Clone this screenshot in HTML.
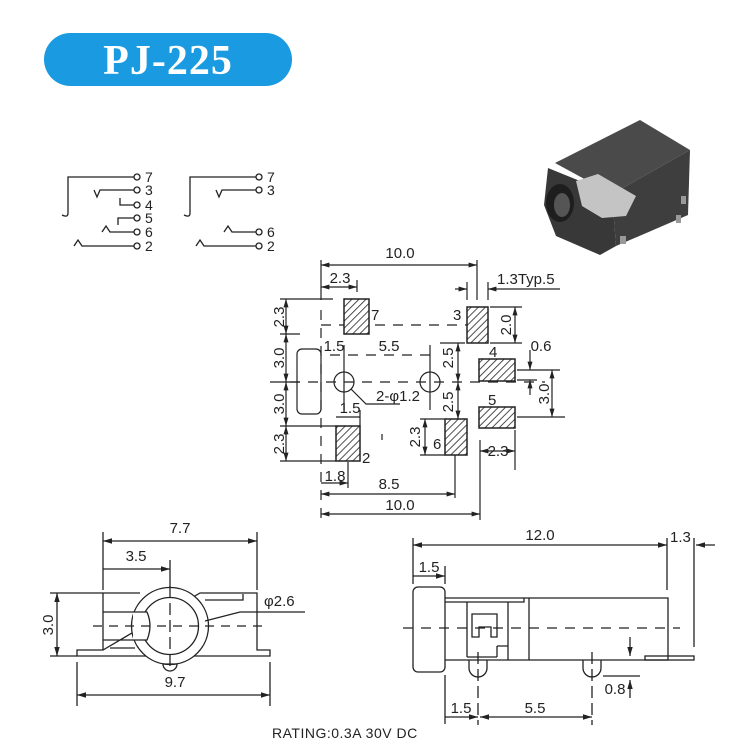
<!DOCTYPE html>
<html><head><meta charset="utf-8"><style>
html,body{margin:0;padding:0;background:#fff;}
svg{display:block}
text{font-family:"Liberation Sans",Arial,sans-serif;font-size:15px;fill:#222;}
</style></head><body>
<svg width="735" height="744" viewBox="0 0 735 744" xmlns="http://www.w3.org/2000/svg">
<defs>
<pattern id="h" width="5" height="5" patternUnits="userSpaceOnUse" patternTransform="rotate(45)">
<rect width="5" height="5" fill="#fff"/><line x1="0" y1="0" x2="0" y2="5" stroke="#222" stroke-width="1.6"/>
</pattern>
<marker id="a" viewBox="0 0 10 10" refX="10" refY="5" markerWidth="7" markerHeight="7" orient="auto-start-reverse"><path d="M0,2 L10,5 L0,8 z" fill="#222"/></marker>
</defs>
<!-- title -->
<rect x="44" y="33" width="248" height="53" rx="26.5" fill="#1a9ae0"/>
<text x="168" y="74" text-anchor="middle" style="font-family:'Liberation Serif',serif;font-weight:bold;font-size:42px;fill:#fff;letter-spacing:1px">PJ-225</text>

<!-- photo -->
<g>
<polygon points="555,163 640,120 690,150 612,194" fill="#4a4a4a"/>
<polygon points="612,194 690,150 688,215 616,246" fill="#3e3e3e"/>
<polygon points="548,168 612,194 616,246 600,255 556,236 544,205" fill="#383838"/>
<polygon points="576,181 598,174 636,196 626,216 602,218 582,206" fill="#c4c4c4"/>
<ellipse cx="560" cy="203" rx="14" ry="19" fill="#1e1e1e"/>
<ellipse cx="562" cy="205" rx="8" ry="12" fill="#555"/>
<rect x="620" y="236" width="6" height="8" fill="#999"/>
<rect x="681" y="196" width="5" height="8" fill="#999"/>
<rect x="676" y="215" width="5" height="8" fill="#999"/>
</g>

<g fill="none" stroke="#222" stroke-width="1.3">
<!-- schematic left -->
<path d="M134,177 H68 V213 Q68,218 62,215"/>
<path d="M134,190 H100 L97,197 L94,190"/>
<path d="M134,205 H120 V198"/>
<path d="M134,218 H118 V225"/>
<path d="M134,232 H110 L106,226 L102,232"/>
<path d="M134,246 H82 L78,240 L74,246"/>
<circle cx="137" cy="177" r="3"/><circle cx="137" cy="190" r="3"/><circle cx="137" cy="205" r="3"/><circle cx="137" cy="218" r="3"/><circle cx="137" cy="232" r="3"/><circle cx="137" cy="246" r="3"/>
<!-- schematic right -->
<path d="M256,177 H190 V213 Q190,218 184,215"/>
<path d="M256,190 H222 L219,197 L216,190"/>
<path d="M256,232 H232 L228,226 L224,232"/>
<path d="M256,246 H204 L200,240 L196,246"/>
<circle cx="259" cy="177" r="3"/><circle cx="259" cy="190" r="3"/><circle cx="259" cy="232" r="3"/><circle cx="259" cy="246" r="3"/>
</g>
<g style="font-size:14px">
<text x="145" y="182" style="font-size:14px">7</text><text x="145" y="195" style="font-size:14px">3</text><text x="145" y="210" style="font-size:14px">4</text><text x="145" y="223" style="font-size:14px">5</text><text x="145" y="237" style="font-size:14px">6</text><text x="145" y="251" style="font-size:14px">2</text>
<text x="267" y="182" style="font-size:14px">7</text><text x="267" y="195" style="font-size:14px">3</text><text x="267" y="237" style="font-size:14px">6</text><text x="267" y="251" style="font-size:14px">2</text>
</g>

<!-- PCB footprint -->
<g fill="none" stroke="#222" stroke-width="1.2">
<line x1="321" y1="260" x2="321" y2="300"/>
<line x1="321" y1="310" x2="321" y2="520" stroke-dasharray="10,8"/>
<line x1="477" y1="260" x2="477" y2="300"/>
<line x1="480" y1="440" x2="480" y2="520"/>
<line x1="321" y1="265" x2="477" y2="265" marker-start="url(#a)" marker-end="url(#a)"/>
<line x1="321" y1="287" x2="357" y2="287" marker-start="url(#a)" marker-end="url(#a)"/>
<line x1="357" y1="280" x2="357" y2="292"/>
<line x1="280" y1="299" x2="333" y2="299"/>
<line x1="280" y1="334" x2="300" y2="334"/>
<line x1="270" y1="382" x2="300" y2="382"/>
<line x1="280" y1="426" x2="336" y2="426"/>
<line x1="280" y1="461" x2="336" y2="461"/>
<line x1="286" y1="299" x2="286" y2="334" marker-start="url(#a)" marker-end="url(#a)"/>
<line x1="286" y1="334" x2="286" y2="382" marker-start="url(#a)" marker-end="url(#a)"/>
<line x1="286" y1="382" x2="286" y2="426" marker-start="url(#a)" marker-end="url(#a)"/>
<line x1="286" y1="426" x2="286" y2="461" marker-start="url(#a)" marker-end="url(#a)"/>
<rect x="297" y="349" width="24" height="65" rx="5"/>
<line x1="321" y1="325" x2="467" y2="325" stroke-dasharray="10,8"/>
<line x1="290" y1="382" x2="545" y2="382" stroke-dasharray="10,8"/>
<line x1="344" y1="345" x2="344" y2="410"/>
<line x1="430" y1="345" x2="430" y2="410"/>
<line x1="330" y1="355" x2="430" y2="355" stroke-dasharray="10,8"/>
<circle cx="344" cy="382" r="10"/>
<circle cx="430" cy="382" r="10"/>
<path d="M351,389 L366,404 H400"/>
<line x1="336" y1="417" x2="360" y2="417"/>
<line x1="360" y1="410" x2="360" y2="426"/>
<line x1="467" y1="282" x2="467" y2="300"/>
<line x1="488" y1="282" x2="488" y2="300"/>
<line x1="455" y1="289" x2="467" y2="289" marker-end="url(#a)"/>
<line x1="560" y1="289" x2="488" y2="289" marker-end="url(#a)"/>
<line x1="490" y1="307" x2="522" y2="307"/>
<line x1="490" y1="343" x2="522" y2="343"/>
<line x1="515" y1="307" x2="515" y2="343" marker-start="url(#a)" marker-end="url(#a)"/>
<line x1="440" y1="343" x2="465" y2="343"/>
<line x1="458" y1="343" x2="458" y2="382" marker-start="url(#a)" marker-end="url(#a)"/>
<line x1="458" y1="382" x2="458" y2="419" marker-start="url(#a)" marker-end="url(#a)"/>
<line x1="517" y1="370" x2="560" y2="370"/>
<line x1="517" y1="380" x2="537" y2="380"/>
<line x1="517" y1="417" x2="565" y2="417"/>
<line x1="530" y1="350" x2="530" y2="370" marker-end="url(#a)"/>
<line x1="530" y1="395" x2="530" y2="380" marker-end="url(#a)"/>
<line x1="552" y1="370" x2="552" y2="417" marker-start="url(#a)" marker-end="url(#a)"/>
<line x1="515" y1="430" x2="515" y2="470"/>
<line x1="480" y1="451" x2="515" y2="451" marker-start="url(#a)" marker-end="url(#a)"/>
<line x1="420" y1="419" x2="445" y2="419"/>
<line x1="420" y1="455" x2="445" y2="455"/>
<line x1="425" y1="419" x2="425" y2="455" marker-start="url(#a)" marker-end="url(#a)"/>
<line x1="382" y1="434" x2="382" y2="440"/>
<line x1="348" y1="462" x2="348" y2="488"/>
<line x1="455" y1="455" x2="455" y2="498"/>
<line x1="321" y1="483" x2="348" y2="483" marker-end="url(#a)"/>
<line x1="321" y1="494" x2="455" y2="494" marker-start="url(#a)" marker-end="url(#a)"/>
<line x1="321" y1="514" x2="480" y2="514" marker-start="url(#a)" marker-end="url(#a)"/>
</g>
<g stroke="#222" stroke-width="1.5" fill="url(#h)">
<rect x="344" y="299" width="25" height="35"/>
<rect x="467" y="307" width="21" height="36"/>
<rect x="479" y="359" width="36" height="22"/>
<rect x="479" y="407" width="36" height="21"/>
<rect x="336" y="426" width="24" height="35"/>
<rect x="445" y="419" width="22" height="36"/>
</g>
<g>
<text x="400" y="258" text-anchor="middle">10.0</text>
<text x="340" y="283" text-anchor="middle">2.3</text>
<text x="497" y="284">1.3Typ.5</text>
<text x="371" y="320">7</text>
<text x="453" y="320">3</text>
<text x="489" y="357">4</text>
<text x="488" y="405">5</text>
<text x="362" y="463">2</text>
<text x="433" y="449">6</text>
<text x="334" y="351" text-anchor="middle">1.5</text>
<text x="389" y="351" text-anchor="middle">5.5</text>
<text x="398" y="401" text-anchor="middle">2-φ1.2</text>
<text x="350" y="413" text-anchor="middle">1.5</text>
<text x="541" y="351" text-anchor="middle">0.6</text>
<text x="498" y="456" text-anchor="middle">2.3</text>
<text x="335" y="481" text-anchor="middle">1.8</text>
<text x="389" y="489" text-anchor="middle">8.5</text>
<text x="400" y="510" text-anchor="middle">10.0</text>
<text transform="translate(284,317) rotate(-90)" text-anchor="middle">2.3</text>
<text transform="translate(284,358) rotate(-90)" text-anchor="middle">3.0</text>
<text transform="translate(284,404) rotate(-90)" text-anchor="middle">3.0</text>
<text transform="translate(284,444) rotate(-90)" text-anchor="middle">2.3</text>
<text transform="translate(511,325) rotate(-90)" text-anchor="middle">2.0</text>
<text transform="translate(453,358) rotate(-90)" text-anchor="middle">2.5</text>
<text transform="translate(453,402) rotate(-90)" text-anchor="middle">2.5</text>
<text transform="translate(549,394) rotate(-90)" text-anchor="middle">3.0</text>
<text transform="translate(420,437) rotate(-90)" text-anchor="middle">2.3</text>
</g>

<!-- front view -->
<g fill="none" stroke="#222" stroke-width="1.3">
<line x1="103" y1="532" x2="103" y2="590"/>
<line x1="257" y1="532" x2="257" y2="590"/>
<line x1="170" y1="560" x2="170" y2="590"/>
<line x1="103" y1="541" x2="257" y2="541" marker-start="url(#a)" marker-end="url(#a)"/>
<line x1="103" y1="569" x2="170" y2="569" marker-end="url(#a)"/>
<line x1="50" y1="593" x2="103" y2="593"/>
<line x1="50" y1="656" x2="77" y2="656"/>
<line x1="57" y1="593" x2="57" y2="656" marker-start="url(#a)" marker-end="url(#a)"/>
<path d="M103,593 H140 M200,593 H257 V650 H270 V656 H77 V650 H103 Z"/>
<path d="M103,593 V650"/>
<path d="M103,612 H133 M103,640 H133 M110,648 H135"/>
<path d="M205,600 H243 V594"/>
<circle cx="170" cy="626" r="38.5" fill="#fff"/>
<circle cx="170" cy="626" r="28.5"/>
<path d="M133,612 L147,612 Q153,626 147,640 L133,640" fill="#fff"/>
<path d="M163,664 h14 a7,7 0 0 1 -14,0z"/>
<line x1="93" y1="626" x2="262" y2="626" stroke-dasharray="9,7"/>
<line x1="170" y1="586" x2="170" y2="666" stroke-dasharray="12,5"/>
<path d="M205,621 L240,612 H305"/>
<line x1="77" y1="662" x2="77" y2="706"/>
<line x1="270" y1="662" x2="270" y2="706"/>
<line x1="77" y1="695" x2="270" y2="695" marker-start="url(#a)" marker-end="url(#a)"/>
</g>
<text x="180" y="533" text-anchor="middle">7.7</text>
<text x="136" y="561" text-anchor="middle">3.5</text>
<text x="264" y="606">φ2.6</text>
<text x="175" y="687" text-anchor="middle">9.7</text>
<text transform="translate(53,625) rotate(-90)" text-anchor="middle">3.0</text>

<!-- side view -->
<g fill="none" stroke="#222" stroke-width="1.3">
<line x1="413" y1="538" x2="413" y2="584"/>
<line x1="667" y1="538" x2="667" y2="590"/>
<line x1="694" y1="538" x2="694" y2="647"/>
<line x1="445" y1="566" x2="445" y2="584"/>
<line x1="413" y1="545" x2="667" y2="545" marker-start="url(#a)" marker-end="url(#a)"/>
<line x1="715" y1="545" x2="696" y2="545" marker-end="url(#a)"/>
<line x1="413" y1="576" x2="445" y2="576" marker-end="url(#a)"/>
<rect x="413" y="587" width="32" height="85" rx="5"/>
<path d="M445,598 H668 V660 H445"/>
<path d="M524,598 V602 H445"/>
<line x1="529" y1="598" x2="529" y2="660"/>
<path d="M467,602 V657 M508,602 V660"/>
<path d="M472,614 H497 V637 H491 V627 H479 V637 H472 Z"/>
<path d="M497,646 H508 M497,646 V657 M467,657 H497"/>
<rect x="645" y="656" width="49" height="4"/>
<path d="M469,660 v8 a9,9 0 0 0 18,0 v-8"/>
<path d="M583,660 v8 a9,9 0 0 0 18,0 v-8"/>
<line x1="403" y1="628" x2="680" y2="628" stroke-dasharray="10,8"/>
<line x1="478" y1="652" x2="478" y2="725" stroke-dasharray="12,5"/>
<line x1="592" y1="652" x2="592" y2="725" stroke-dasharray="12,5"/>
<line x1="445" y1="675" x2="445" y2="724"/>
<line x1="630" y1="637" x2="630" y2="656" marker-end="url(#a)"/>
<line x1="603" y1="676" x2="640" y2="676"/>
<line x1="630" y1="698" x2="630" y2="680" marker-end="url(#a)"/>
<line x1="445" y1="717" x2="478" y2="717" marker-end="url(#a)"/>
<line x1="480" y1="717" x2="592" y2="717" marker-start="url(#a)" marker-end="url(#a)"/>
</g>
<text x="540" y="540" text-anchor="middle">12.0</text>
<text x="670" y="542">1.3</text>
<text x="429" y="572" text-anchor="middle">1.5</text>
<text x="615" y="694" text-anchor="middle">0.8</text>
<text x="461" y="713" text-anchor="middle">1.5</text>
<text x="535" y="713" text-anchor="middle">5.5</text>
<text x="272" y="738" style="font-size:14px;letter-spacing:0.5px">RATING:0.3A 30V DC</text>
</svg>
</body></html>
